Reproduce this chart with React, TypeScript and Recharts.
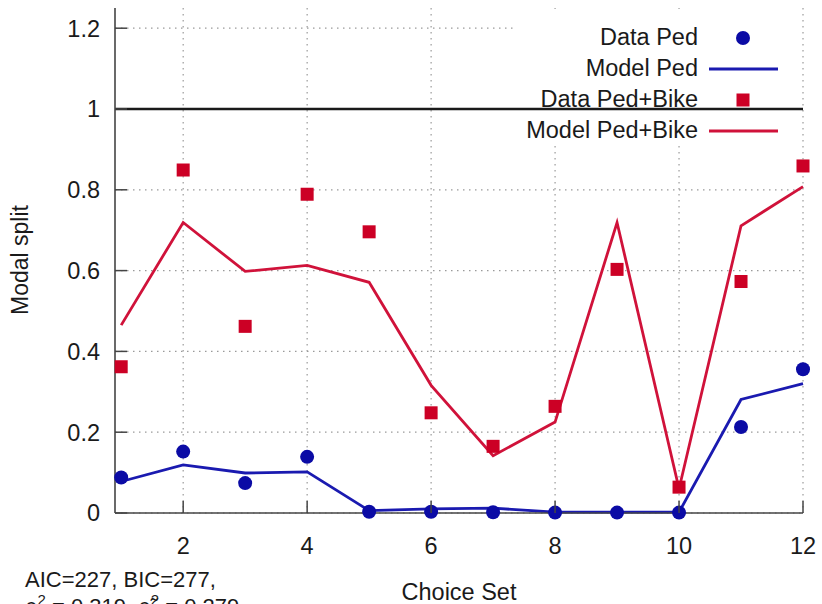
import React from 'react';
import { ComposedChart, Line, Scatter, XAxis, YAxis, CartesianGrid, ReferenceLine } from 'recharts';

const choiceSets = [1, 2, 3, 4, 5, 6, 7, 8, 9, 10, 11, 12];
const dataPed = [0.088, 0.152, 0.074, 0.139, 0.003, 0.003, 0.002, 0.001, 0.001, 0.001, 0.213, 0.356];
const modelPed = [0.078, 0.119, 0.099, 0.102, 0.006, 0.010, 0.012, 0.002, 0.002, 0.002, 0.281, 0.320];
const dataPedBike = [0.362, 0.849, 0.462, 0.789, 0.696, 0.248, 0.165, 0.264, 0.603, 0.064, 0.573, 0.859];
const modelPedBike = [0.465, 0.719, 0.598, 0.613, 0.571, 0.316, 0.142, 0.225, 0.719, 0.060, 0.711, 0.808];
const xTicks = [2, 4, 6, 8, 10, 12];
const yTicks = [0, 0.2, 0.4, 0.6, 0.8, 1, 1.2];
const legendLabels = ['Data Ped', 'Model Ped', 'Data Ped+Bike', 'Model Ped+Bike'];

const rows = choiceSets.map((x, i) => ({
  x,
  dataPed: dataPed[i],
  modelPed: modelPed[i],
  dataPedBike: dataPedBike[i],
  modelPedBike: modelPedBike[i],
}));

const FONT = '"Liberation Sans", Arial, sans-serif';
const TXT = '#1a1a1a';
const FRAME = '#444444';
const BLUE_DOT = '#0b0ba5';
const BLUE_LINE = '#1a1ab0';
const RED_DOT = '#cc0025';
const RED_LINE = '#d0123a';

const BottomTick = (props: any) => {
  const { x, y, payload } = props;
  return (
    <g>
      <line x1={x} x2={x} y1={y} y2={y - 12} stroke={FRAME} strokeWidth={1.5} />
      <text x={x} y={y + 41} textAnchor="middle" fontFamily={FONT} fontSize={23.5} fill={TXT}>
        {payload.value}
      </text>
    </g>
  );
};

const TopTick = (props: any) => {
  const { x, y } = props;
  return <line x1={x} x2={x} y1={y} y2={y + 12} stroke={FRAME} strokeWidth={1.5} />;
};

const LeftTick = (props: any) => {
  const { x, y, payload } = props;
  const v = payload.value;
  const label = v === 0 || v === 1 ? String(v) : v.toFixed(1);
  return (
    <g>
      <line x1={x} x2={x + 12} y1={y} y2={y} stroke={FRAME} strokeWidth={1.5} />
      <text x={x - 15} y={y} dy="0.36em" textAnchor="end" fontFamily={FONT} fontSize={23.5} fill={TXT}>
        {label}
      </text>
    </g>
  );
};

const RightTick = (props: any) => {
  const { x, y } = props;
  return <line x1={x} x2={x - 12} y1={y} y2={y} stroke={FRAME} strokeWidth={1.5} />;
};

const CircleShape = (props: any) => <circle cx={props.cx} cy={props.cy} r={7} fill={BLUE_DOT} />;
const SquareShape = (props: any) => (
  <rect x={props.cx - 6.5} y={props.cy - 6.5} width={13} height={13} fill={RED_DOT} />
);

const LegendBox = () => {
  const textX = 698;
  const symX = 743;
  const rowsY = [45, 76, 107, 138];
  return (
    <g>
      <rect x={513} y={9} width={289} height={136} fill="#ffffff" />
      {legendLabels.map((l, i) => (
        <text key={l} x={textX} y={rowsY[i]} textAnchor="end" fontFamily={FONT} fontSize={23.5} fill={TXT}>
          {l}
        </text>
      ))}
      <circle cx={symX} cy={rowsY[0] - 7} r={7} fill={BLUE_DOT} />
      <line x1={709} x2={778} y1={rowsY[1] - 7} y2={rowsY[1] - 7} stroke={BLUE_LINE} strokeWidth={2.8} />
      <rect x={symX - 6.5} y={rowsY[2] - 7 - 6.5} width={13} height={13} fill={RED_DOT} />
      <line x1={709} x2={778} y1={rowsY[3] - 7} y2={rowsY[3] - 7} stroke={RED_LINE} strokeWidth={2.8} />
    </g>
  );
};

const Annotations = () => (
  <g>
    <text x={459} y={600} textAnchor="middle" fontFamily={FONT} fontSize={23.5} fill={TXT}>
      Choice Set
    </text>
    <text
      x={28}
      y={260}
      transform="rotate(-90 28 260)"
      textAnchor="middle"
      fontFamily={FONT}
      fontSize={23}
      fill={TXT}
    >
      Modal split
    </text>
    <text x={25} y={587} fontFamily={FONT} fontSize={22} fill={TXT}>
      AIC=227, BIC=277,
    </text>
    <text x={25} y={614} fontFamily={FONT} fontSize={22} fill={TXT}>
      ρ<tspan dy={-9} fontSize={15}>2</tspan>
      <tspan dy={9}> = 0.319, ρ̃</tspan>
      <tspan dy={-9} fontSize={15}>2</tspan>
      <tspan dy={9}> = 0.279</tspan>
    </text>
  </g>
);

export default function App() {
  return (
    <div style={{ position: 'absolute', left: 0, top: 0, width: 822, height: 604, background: '#fff' }}>
      <ComposedChart width={822} height={604} data={rows} margin={{ top: 8, right: 19, bottom: 0, left: 0 }}>
        <CartesianGrid
          stroke="#9a9a9a"
          strokeWidth={1.2}
          strokeDasharray="1.5 4.5"
          horizontalValues={yTicks}
          verticalValues={xTicks}
        />
        <LegendBox />
        <ReferenceLine y={1} stroke="#1a1a1a" strokeWidth={2.6} ifOverflow="extendDomain" />
        <XAxis
          dataKey="x"
          type="number"
          domain={[0.9, 12]}
          ticks={xTicks}
          interval={0}
          height={91}
          tickSize={0}
          tickMargin={0}
          tickLine={false}
          tick={<BottomTick />}
          axisLine={{ stroke: FRAME, strokeWidth: 1.6 }}
        />
        <XAxis
          xAxisId="top"
          orientation="top"
          dataKey="x"
          type="number"
          domain={[0.9, 12]}
          ticks={xTicks}
          interval={0}
          height={0}
          tickSize={0}
          tickMargin={0}
          tickLine={false}
          tick={<TopTick />}
          axisLine={{ stroke: FRAME, strokeWidth: 1.6 }}
        />
        <YAxis
          type="number"
          domain={[0, 1.25]}
          ticks={yTicks}
          interval={0}
          width={115}
          tickSize={0}
          tickMargin={0}
          tickLine={false}
          tick={<LeftTick />}
          axisLine={{ stroke: FRAME, strokeWidth: 1.6 }}
        />
        <YAxis
          yAxisId="right"
          orientation="right"
          type="number"
          domain={[0, 1.25]}
          ticks={yTicks}
          interval={0}
          width={0}
          tickSize={0}
          tickMargin={0}
          tickLine={false}
          tick={<RightTick />}
          axisLine={{ stroke: FRAME, strokeWidth: 1.6 }}
        />
        <Line
          dataKey="modelPed"
          type="linear"
          stroke={BLUE_LINE}
          strokeWidth={2.8}
          dot={false}
          activeDot={false}
          isAnimationActive={false}
        />
        <Line
          dataKey="modelPedBike"
          type="linear"
          stroke={RED_LINE}
          strokeWidth={2.8}
          dot={false}
          activeDot={false}
          isAnimationActive={false}
        />
        <Scatter data={rows} dataKey="dataPed" shape={<CircleShape />} isAnimationActive={false} />
        <Scatter data={rows} dataKey="dataPedBike" shape={<SquareShape />} isAnimationActive={false} />
        <Annotations />
      </ComposedChart>
    </div>
  );
}
